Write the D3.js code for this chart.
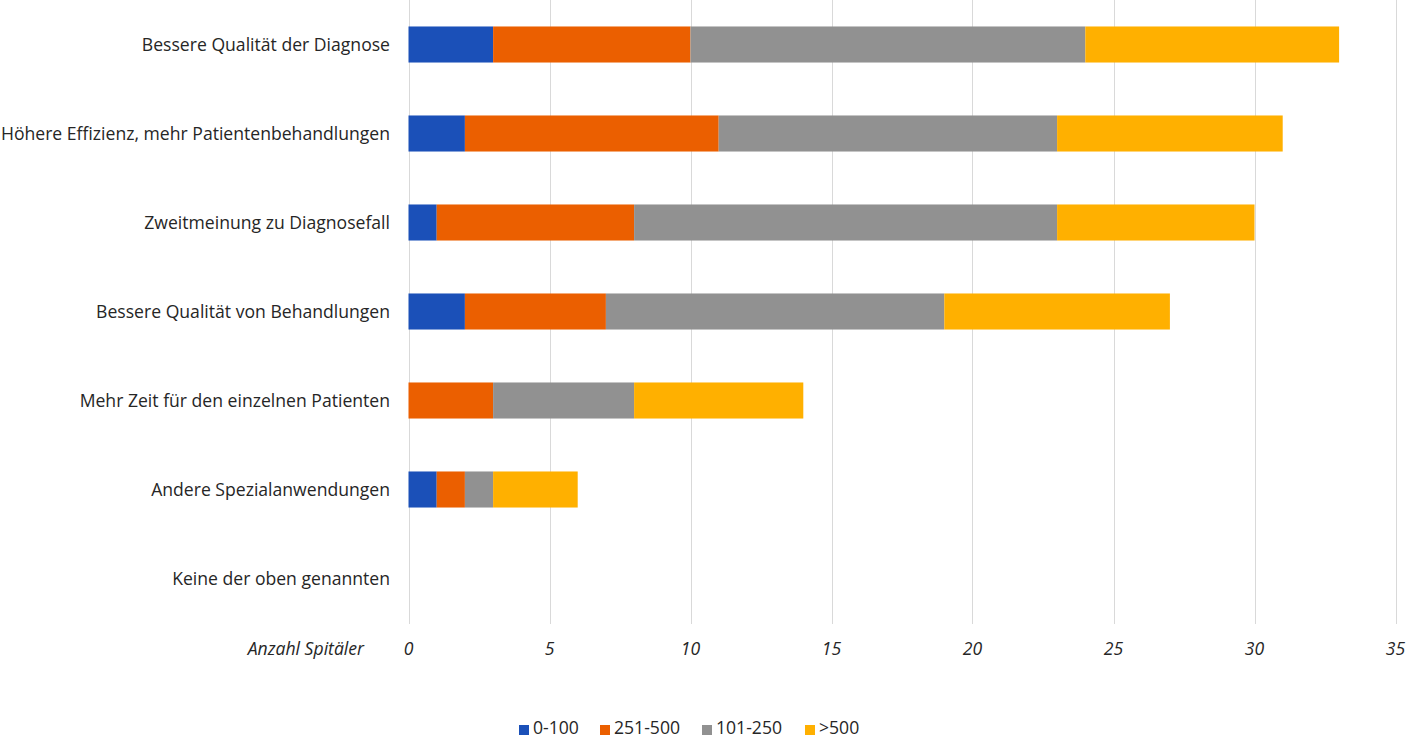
<!DOCTYPE html>
<html><head><meta charset="utf-8">
<script src="https://cdn.jsdelivr.net/npm/d3@7"></script>
<style>body{margin:0;background:#fff;}svg{display:block;}</style>
</head><body>
<svg id="c" width="1406" height="741"></svg>
<script>
const categories = ["Bessere Qualität der Diagnose","Höhere Effizienz, mehr Patientenbehandlungen","Zweitmeinung zu Diagnosefall","Bessere Qualität von Behandlungen","Mehr Zeit für den einzelnen Patienten","Andere Spezialanwendungen","Keine der oben genannten"];
const seriesNames = ["0-100","251-500","101-250",">500"];
const s0_100   = [3,2,1,2,0,1,0];
const s251_500 = [7,9,7,5,3,1,0];
const s101_250 = [14,12,15,12,5,1,0];
const s500     = [9,8,7,8,6,3,0];
const colors = ["#1B50B8","#EB5F00","#919191","#FFB000"];
const xTicks = [0,5,10,15,20,25,30,35];
const axisTitle = "Anzahl Spitäler";

const font = "'Open Sans', sans-serif";
const fs = 17.6;
const svg = d3.select("#c");
const x = d3.scaleLinear().domain([0,35]).range([408.5,1395.5]);
const y = d3.scaleBand().domain(categories).range([0,623]).paddingInner(0.595).paddingOuter(0.2975);

const rows = categories.map((c,i)=>({cat:c,"0-100":s0_100[i],"251-500":s251_500[i],"101-250":s101_250[i],">500":s500[i]}));
const stack = d3.stack().keys(seriesNames)(rows);

// gridlines
svg.append("g").selectAll("line").data(xTicks).join("line")
  .attr("x1",d=>Math.round(x(d))+0.5).attr("x2",d=>Math.round(x(d))+0.5)
  .attr("y1",0).attr("y2",624).attr("stroke","#d9d9d9").attr("stroke-width",1);

// bars
svg.append("g").selectAll("g").data(stack).join("g")
  .attr("fill",(d,i)=>colors[i])
  .selectAll("rect").data(d=>d).join("rect")
  .attr("x",d=>x(d[0])).attr("width",d=>x(d[1])-x(d[0]))
  .attr("y",d=>y(d.data.cat)).attr("height",y.bandwidth());

// category labels
svg.append("g").selectAll("text").data(categories).join("text")
  .attr("x",390).attr("y",d=>y(d)+y.bandwidth()/2).attr("dy","0.35em")
  .attr("text-anchor","end").attr("font-family",font).attr("font-size",fs).attr("fill","#262626")
  .text(d=>d);

// x tick labels
svg.append("g").selectAll("text").data(xTicks).join("text")
  .attr("x",d=>x(d)).attr("y",649).attr("dy","0.35em").attr("text-anchor","middle")
  .attr("font-family",font).attr("font-size",fs).attr("font-style","italic").attr("fill","#262626")
  .text(d=>d);

svg.append("text").attr("x",364).attr("y",649).attr("dy","0.35em").attr("text-anchor","end")
  .attr("font-family",font).attr("font-size",fs).attr("font-style","italic").attr("fill","#262626")
  .text(axisTitle);

// legend
const legendX = [519,600,702,805];
const lg = svg.append("g").selectAll("g").data(seriesNames).join("g")
  .attr("transform",(d,i)=>`translate(${legendX[i]},728)`);
lg.append("rect").attr("x",0).attr("y",-3).attr("width",10).attr("height",10).attr("fill",(d,i)=>colors[i]);
lg.append("text").attr("x",14).attr("y",0).attr("dy","0.35em").attr("font-family",font).attr("font-size",fs).attr("fill","#262626").text(d=>d);
</script>
</body></html>
